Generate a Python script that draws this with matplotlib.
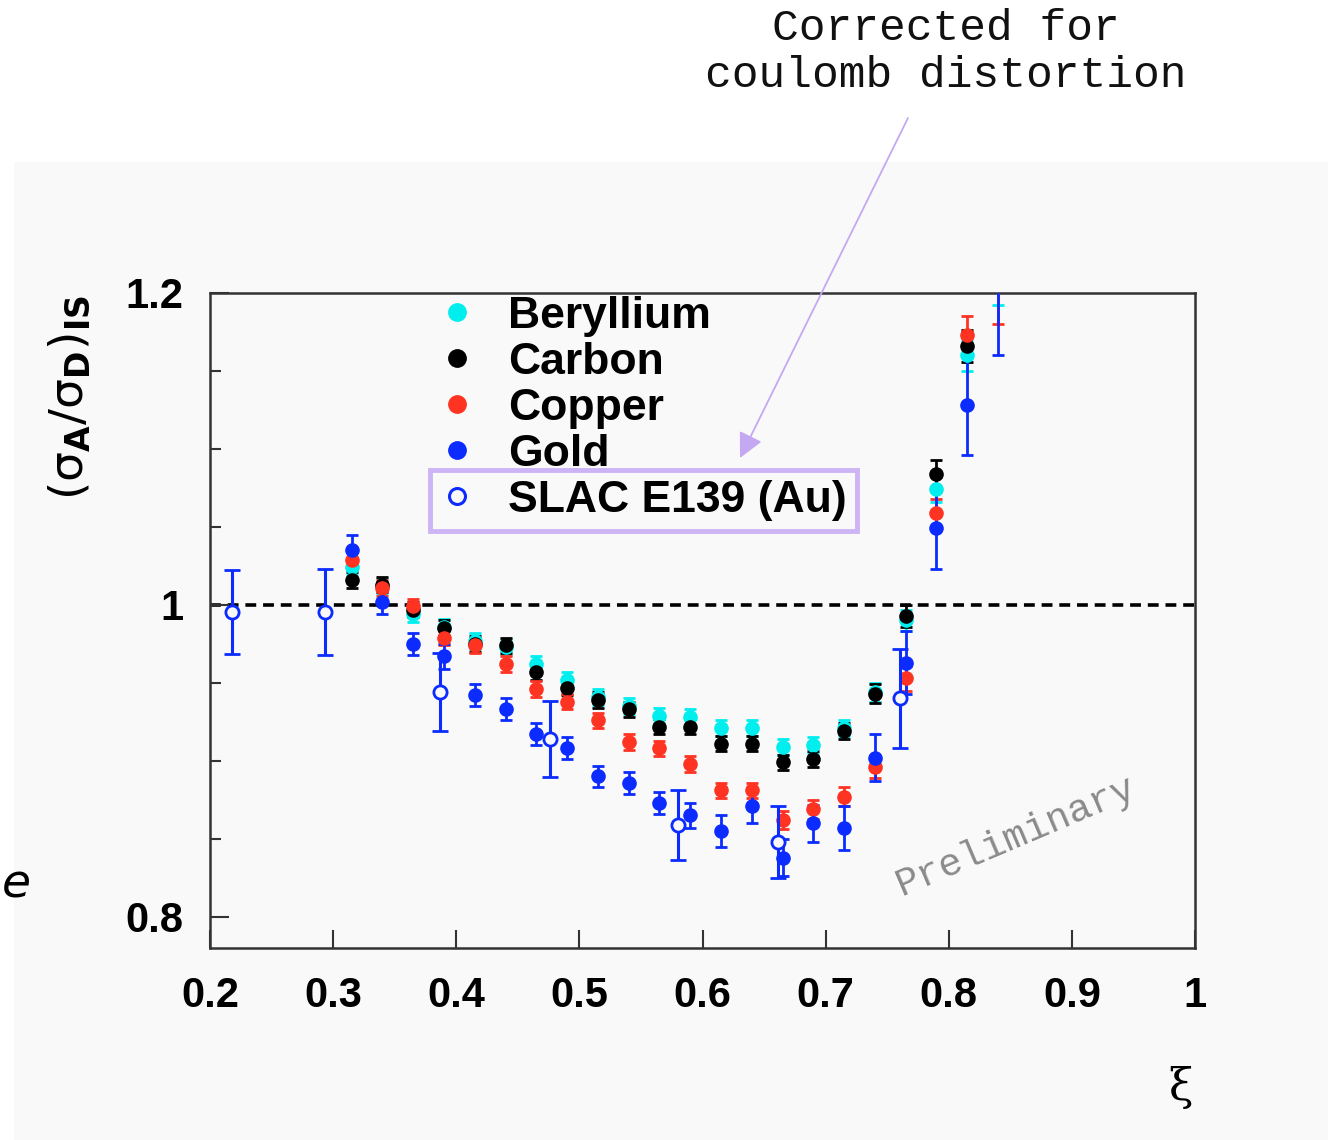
import matplotlib
matplotlib.use("Agg")
import matplotlib.pyplot as plt
from matplotlib.lines import Line2D
from matplotlib.patches import Rectangle
from matplotlib.ticker import MultipleLocator

# Bjorken-xi bins of the measurement
xi = [0.315, 0.34, 0.365, 0.39, 0.415, 0.44, 0.465, 0.49, 0.515, 0.54, 0.565,
      0.59, 0.615, 0.64, 0.665, 0.69, 0.715, 0.74, 0.765, 0.79, 0.815, 0.84]

ratio_be = [1.024, 1.012, 0.994, 0.986, 0.977, 0.973, 0.962, 0.952, 0.941, 0.935, 0.929,
            0.928, 0.921, 0.921, 0.909, 0.910, 0.921, 0.944, 0.990, 1.074, 1.160, 1.215]
err_be = [0.005, 0.005, 0.005, 0.005, 0.005, 0.005, 0.005, 0.005, 0.005, 0.005, 0.005,
          0.005, 0.005, 0.005, 0.005, 0.005, 0.005, 0.006, 0.007, 0.008, 0.010, 0.023]

ratio_c = [1.016, 1.013, 0.997, 0.985, 0.975, 0.974, 0.957, 0.947, 0.939, 0.933, 0.922,
           0.922, 0.911, 0.911, 0.899, 0.901, 0.919, 0.943, 0.993, 1.084, 1.166, 1.240]
err_c = [0.005, 0.005, 0.005, 0.005, 0.005, 0.005, 0.005, 0.005, 0.005, 0.005, 0.005,
         0.005, 0.005, 0.005, 0.005, 0.005, 0.005, 0.006, 0.007, 0.009, 0.010, 0.030]

ratio_cu = [1.029, 1.011, 0.999, 0.979, 0.974, 0.962, 0.946, 0.938, 0.926, 0.912, 0.908,
            0.898, 0.881, 0.881, 0.862, 0.869, 0.877, 0.896, 0.953, 1.059, 1.173, 1.230]
err_cu = [0.005, 0.005, 0.005, 0.005, 0.005, 0.005, 0.005, 0.005, 0.005, 0.005, 0.005,
          0.005, 0.005, 0.005, 0.006, 0.006, 0.006, 0.007, 0.008, 0.009, 0.012, 0.050]

ratio_au = [1.035, 1.002, 0.975, 0.967, 0.942, 0.933, 0.917, 0.908, 0.890, 0.886, 0.873,
            0.865, 0.855, 0.871, 0.838, 0.860, 0.857, 0.902, 0.963, 1.049, 1.128, 1.215]
err_au = [0.010, 0.008, 0.007, 0.008, 0.007, 0.007, 0.007, 0.007, 0.007, 0.007, 0.007,
          0.008, 0.010, 0.011, 0.012, 0.012, 0.014, 0.015, 0.020, 0.026, 0.032, 0.055]

# SLAC E139 gold points
xi_slac = [0.218, 0.293, 0.387, 0.476, 0.580, 0.661, 0.760]
ratio_slac = [0.9955, 0.9955, 0.944, 0.914, 0.859, 0.848, 0.940]
err_slac = [0.027, 0.0275, 0.025, 0.0245, 0.0225, 0.023, 0.032]

labels = ["Beryllium", "Carbon", "Copper", "Gold", "SLAC E139 (Au)"]
colors = ["#00eeee", "#000000", "#ff3322", "#0b2bff"]

x_ticks = [0.2, 0.3, 0.4, 0.5, 0.6, 0.7, 0.8, 0.9, 1.0]
x_tick_labels = ["0.2", "0.3", "0.4", "0.5", "0.6", "0.7", "0.8", "0.9", "1"]
y_ticks = [0.8, 1.0, 1.2]
y_tick_labels = ["0.8", "1", "1.2"]

W, H = 1328, 1140
fig = plt.figure(figsize=(W / 100, H / 100), dpi=100)
fig.patch.set_facecolor("white")

panel_gray = "#f9f9f9"
fig.patches.append(Rectangle((14 / W, 0), 1 - 14 / W, 1 - 162 / H,
                             transform=fig.transFigure, facecolor=panel_gray,
                             edgecolor="none", zorder=-5))

ax = fig.add_axes([210 / W, 1 - 948 / H, (1195 - 210) / W, (948 - 293) / H])
ax.set_facecolor(panel_gray)
ax.set_xlim(0.2, 1.0)
ax.set_ylim(0.78, 1.2)

# Unity reference line
ax.axhline(1.0, color="black", lw=2.6, ls=(0, (3.0, 1.9)), zorder=1)

series = [(ratio_be, err_be), (ratio_c, err_c), (ratio_cu, err_cu), (ratio_au, err_au)]
for (vals, errs), col in zip(series, colors):
    ax.errorbar(xi, vals, yerr=errs, fmt="o", color=col, ms=9.5, mec=col,
                elinewidth=2, capsize=4, capthick=2, zorder=3)

ax.errorbar(xi_slac, ratio_slac, yerr=err_slac, fmt="o", color=colors[3], ms=9.5,
            mfc=panel_gray, mec=colors[3], mew=2, elinewidth=2.2, capsize=6,
            capthick=2.2, zorder=4)

# Axes styling
for s in ax.spines.values():
    s.set_linewidth(1.8)
    s.set_color("#333333")
ax.set_xticks(x_ticks)
ax.set_xticklabels(x_tick_labels)
ax.set_yticks(y_ticks)
ax.set_yticklabels(y_tick_labels)
ax.yaxis.set_minor_locator(MultipleLocator(0.05))
ax.tick_params(axis="x", which="major", direction="in", length=13, width=1.5,
               pad=20, labelsize=30, color="#333333")
ax.tick_params(axis="y", which="major", direction="in", length=14, width=1.5,
               pad=19, labelsize=30, color="#333333")
ax.tick_params(axis="y", which="minor", direction="in", length=8, width=1.5,
               color="#333333")
for lab in ax.get_xticklabels() + ax.get_yticklabels():
    lab.set_fontweight("bold")
    lab.set_family("Liberation Sans")

# Legend
handles = [Line2D([], [], ls="none", marker="o", ms=12.5, color=c, mec=c) for c in colors]
handles.append(Line2D([], [], ls="none", marker="o", ms=11.5, mfc=panel_gray,
                      mec=colors[3], mew=2.2))
leg = ax.legend(handles, labels, loc="upper left", bbox_to_anchor=(0.2284, 0.9954),
                frameon=False, handlelength=1.0, handletextpad=0.65,
                labelspacing=0.11, borderpad=0, borderaxespad=0,
                prop={"family": "Liberation Sans", "weight": "bold", "size": 32})

ax.add_patch(Rectangle((0.2234, 0.6366), 0.6569 - 0.2234, 0.7298 - 0.6366,
                       transform=ax.transAxes, fill=False, edgecolor="#cdb4f5",
                       lw=3.5, zorder=5, clip_on=False))

# Annotation with arrow
fig.text(946 / W, 1 - 52 / H, "Corrected for\ncoulomb distortion", ha="center",
         va="center", multialignment="center", family="Liberation Mono",
         fontsize=32, linespacing=1.2, color="#111111")
ax.annotate("", xy=(740 / W, 1 - 458 / H), xycoords="figure fraction",
            xytext=(908 / W, 1 - 118 / H), textcoords="figure fraction",
            arrowprops=dict(arrowstyle="-|>", color="#c5a8f2", lw=1.3,
                            mutation_scale=38, shrinkA=0, shrinkB=0),
            annotation_clip=False, zorder=6)

# Watermark
ax.text(1016 / W, 1 - 836 / H, "Preliminary", transform=fig.transFigure,
        rotation=23, ha="center", va="center", family="Liberation Mono",
        fontsize=28, color="#8a8a8a", zorder=2)

# Axis titles
fig.text(70 / W, 1 - 397 / H,
         r"$(\mathrm{σ}_{\mathbf{A}}/\mathrm{σ}_{\mathbf{D}})_{\mathbf{IS}}$",
         rotation=90, ha="center", va="center", fontsize=34)
fig.text(1181 / W, 1 - 1087 / H, "ξ", ha="center", va="center",
         family="DejaVu Serif", fontsize=32)

fig.text(16 / W, 1 - 885 / H, "e", ha="center", va="center", fontsize=34,
         style="italic", family="DejaVu Sans")

fig.savefig("out.png", dpi=100, facecolor=fig.get_facecolor())
